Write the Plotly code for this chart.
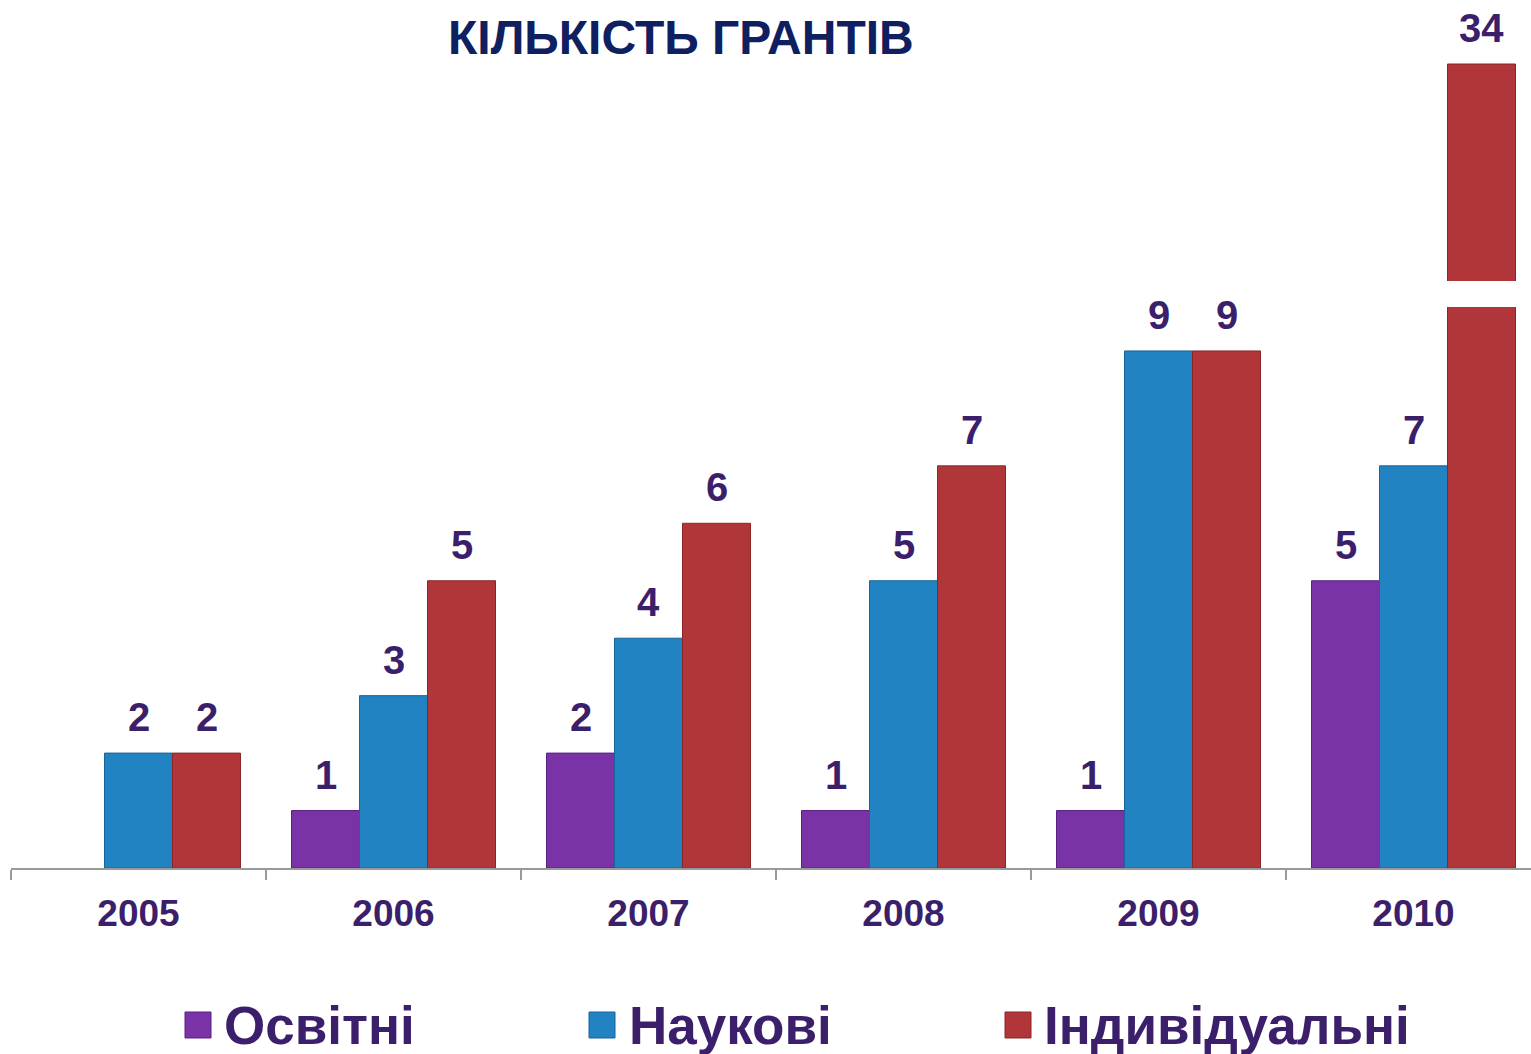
import plotly.graph_objects as go

# ---------------- data ----------------
years = ["2005", "2006", "2007", "2008", "2009", "2010"]
series_names = ["Освітні", "Наукові", "Індивідуальні"]
osvitni = [None, 1, 2, 1, 1, 5]
naukovi = [2, 3, 4, 5, 9, 7]
indyvidualni = [2, 5, 6, 7, 9, 34]
title_text = "КІЛЬКІСТЬ ГРАНТІВ"

# ---------------- styles ----------------
colors = ["#7a33a6", "#2283c3", "#b13639"]
edge_colors = ["#5a2180", "#17649a", "#8a2628"]
label_color = "#3b1f6b"
title_color = "#0f2060"
FONT = "Liberation Sans, Arial, sans-serif"

W, H = 1531, 1054  # body margin removed by post_script, so figure px == page px

ML, MR = 11, 0
MT = 0
plot_bot = 868
MB = H - plot_bot
plot_top = MT
plot_h = plot_bot - plot_top
px_per_unit = 57.45

# broken axis geometry
lower_top = 307
upper_bot = 281
bar34_top = 64
lower_range = [0, (plot_bot - lower_top) / px_per_unit]
upper_top_val = 34 + (bar34_top - plot_top) / px_per_unit
upper_range = [upper_top_val - (upper_bot - plot_top) / px_per_unit, upper_top_val]

def py2paper(py):
    return (plot_bot - py) / plot_h

def px2paper(px):
    return (px - ML) / (W - ML - MR)

bargap = 0.2
all_series = [osvitni, naukovi, indyvidualni]

fig = go.Figure()
for yax in ["y", "y2"]:
    for k, (name, vals) in enumerate(zip(series_names, all_series)):
        fig.add_trace(go.Bar(
            x=years, y=vals, name=name, yaxis=yax, xaxis="x",
            marker=dict(color=colors[k], line=dict(color=edge_colors[k], width=1)),
            showlegend=False, hoverinfo="x+y+name",
        ))

# value labels
bw = (1 - bargap) / 3
annotations = []
for k, vals in enumerate(all_series):
    for i, v in enumerate(vals):
        if v is None:
            continue
        yref = "y" if v <= lower_range[1] else "y2"
        annotations.append(dict(
            x=i + (k - 1) * bw, y=v, xref="x", yref=yref,
            text=f"<b>{v}</b>", showarrow=False, yanchor="middle", yshift=36,
            font=dict(family=FONT, size=40, color=label_color),
        ))

# title
annotations.append(dict(
    x=px2paper(681), y=py2paper(37), xref="paper", yref="paper", text=f"<b>{title_text}</b>",
    showarrow=False, xanchor="center", yanchor="middle",
    font=dict(family=FONT, size=48, color=title_color),
))

# custom legend
legend_sq_x = [185, 589, 1005]
legend_txt_x = [225, 630, 1045]
shapes = []
for k, name in enumerate(series_names):
    x0 = legend_sq_x[k]
    shapes.append(dict(
        type="rect", xref="paper", yref="paper",
        x0=px2paper(x0), x1=px2paper(x0 + 26), y0=py2paper(1038), y1=py2paper(1012),
        fillcolor=colors[k], line=dict(color=edge_colors[k], width=1),
    ))
    annotations.append(dict(
        x=px2paper(legend_txt_x[k] - 3), y=py2paper(1025), xref="paper", yref="paper",
        text=f"<b>{name}</b>", showarrow=False, xanchor="left", yanchor="middle",
        font=dict(family=FONT, size=53, color=label_color),
    ))

fig.update_layout(
    width=W, height=H,
    margin=dict(l=ML, r=MR, t=MT, b=MB),
    paper_bgcolor="white", plot_bgcolor="white",
    barmode="group", bargap=bargap, bargroupgap=0,
    showlegend=False,
    xaxis=dict(
        type="category", range=[-0.5, 5.5 - 10 / 255], anchor="y",
        showline=True, linecolor="#9a9a9a", linewidth=2,
        ticks="outside", tickson="boundaries", ticklen=10, tickcolor="#9a9a9a", tickwidth=2,
        tickfont=dict(family=FONT, size=37, color=label_color, weight="bold"),
        ticklabelstandoff=12,
        showgrid=False, zeroline=False, fixedrange=True,
    ),
    yaxis=dict(
        domain=[0, py2paper(lower_top)], range=lower_range,
        visible=False, showgrid=False, zeroline=False,
    ),
    yaxis2=dict(
        domain=[py2paper(upper_bot), 1], range=upper_range, anchor="x",
        visible=False, showgrid=False, zeroline=False,
    ),
    annotations=annotations,
    shapes=shapes,
)

fig.write_html(
    "out.html",
    config={"displayModeBar": False},
    post_script="document.body.style.margin='0';document.body.style.overflow='hidden';",
)
